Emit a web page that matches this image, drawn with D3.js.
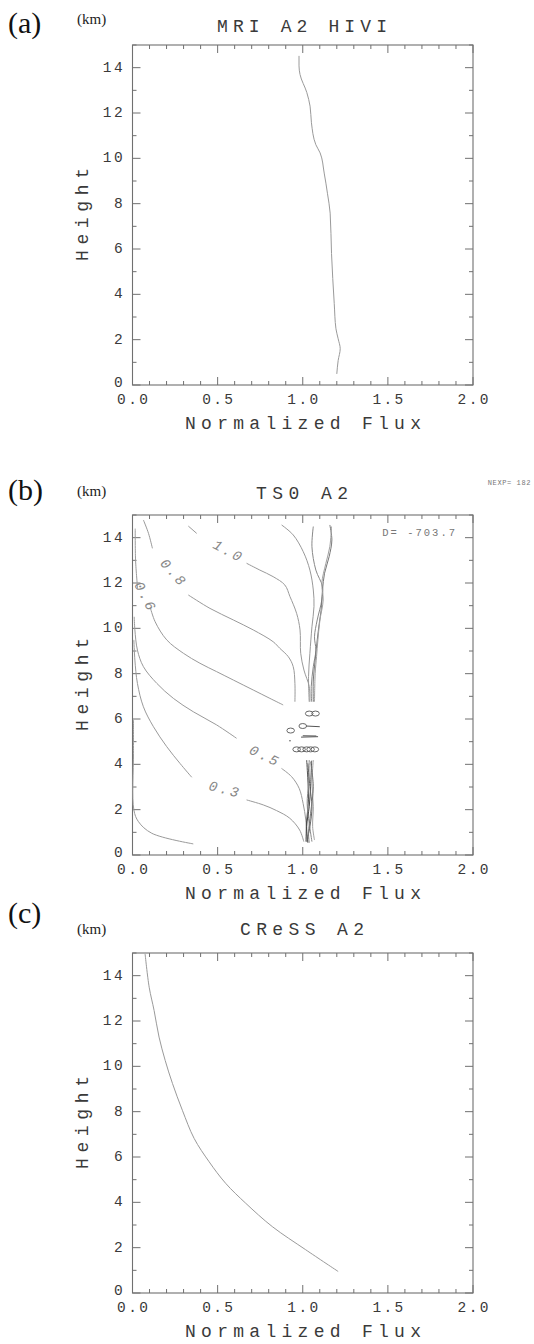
<!DOCTYPE html>
<html><head><meta charset="utf-8">
<script src="https://cdn.jsdelivr.net/npm/d3@7"></script>
<style>body{margin:0;background:#fff}svg{display:block}</style>
</head><body>
<script>
// ---------------- data ----------------
const panelTags = ["(a)", "(b)", "(c)"];
const panelTitles = ["MRI A2 HIVI", "TS0 A2", "CReSS A2"];
const xTicksMajor = [0, 0.5, 1.0, 1.5, 2.0];
const xTickLabels = ["0.0", "0.5", "1.0", "1.5", "2.0"];
const yTicksMajor = [0, 2, 4, 6, 8, 10, 12, 14];
const yTickLabels = ["0", "2", "4", "6", "8", "10", "12", "14"];
const xLabel = "Normalized Flux";
const yLabel = "Height";
const unitLabel = "(km)";

// (a) MRI A2 HIVI profile
const mriFlux   = [1.200, 1.208, 1.220, 1.208, 1.195, 1.185, 1.169, 1.161, 1.145, 1.126, 1.102, 1.077, 1.051, 1.043, 1.024, 0.984, 0.978, 0.978];
const mriHeight = [0.49, 1.08, 1.60, 2.04, 2.48, 3.59, 5.80, 7.58, 8.46, 9.35, 10.24, 10.60, 11.57, 12.30, 12.90, 13.70, 14.08, 14.52];

// (c) CReSS A2 profile
const cressFlux   = [1.208, 1.017, 0.821, 0.665, 0.547, 0.450, 0.362, 0.293, 0.235, 0.192, 0.156, 0.127, 0.098, 0.074];
const cressHeight = [0.95, 1.91, 2.93, 3.96, 4.84, 5.79, 6.82, 8.06, 9.24, 10.26, 11.29, 12.46, 13.49, 14.96];

// (b) TS0 A2 : contour lines of the ensemble distribution, [flux, height]
const contour10a = [[0.328,14.51],[0.377,14.19]];
const contour10b = [[0.670,12.87],[0.748,12.57],[0.826,12.28],[0.895,11.91],[0.925,11.40],[0.964,10.66],[0.984,9.93],[0.988,8.90],[1.007,8.16],[1.038,7.43],[1.042,6.76]];
const contour08a = [[0.064,14.78],[0.094,14.19],[0.117,13.53]];
const contour08b = [[0.328,11.47],[0.455,10.88],[0.592,10.37],[0.709,9.93],[0.826,9.41],[0.865,9.12],[0.915,8.75],[0.944,8.31],[0.954,7.57],[0.954,6.76]];
const contour06a = [[0.016,14.40],[0.018,13.01],[0.030,11.75]];
const contour06b = [[0.104,10.93],[0.133,10.29],[0.201,9.49],[0.299,8.90],[0.396,8.46],[0.494,8.09],[0.592,7.72],[0.709,7.28],[0.807,6.91],[0.885,6.62]];
const contour05a = [[0.010,10.51],[0.014,9.93],[0.029,9.04],[0.064,8.31],[0.143,7.57],[0.240,6.91],[0.357,6.32],[0.494,5.74],[0.611,5.15]];
const contour05b = [[0.875,3.82],[0.934,3.46],[0.979,2.94],[1.002,2.28],[1.018,1.54],[1.025,0.66]];
const contour03a = [[0.008,9.49],[0.014,8.60],[0.029,7.57],[0.064,6.54],[0.123,5.66],[0.201,4.78],[0.279,4.04],[0.348,3.43]];
const contour03b = [[0.670,2.43],[0.768,2.21],[0.846,1.96],[0.924,1.62],[0.982,1.10],[1.006,0.59]];
const contour01  = [[0.006,5.96],[0.006,4.49],[0.008,1.99],[0.035,1.47],[0.113,0.96],[0.357,0.49]];
const contourLabelText = ["1.0", "0.8", "0.6", "0.5", "0.3"];
const contourLabelPos  = [[0.5625,13.38],[0.240,12.43],[0.074,11.37],[0.777,4.34],[0.543,2.87]];
const contourLabelAngle = [28, 48, 62, 26, 14];

// ensemble member profiles (upper and lower layers)
const memberU1 = [[1.062,14.49],[1.054,13.60],[1.077,12.57],[1.116,11.84],[1.112,11.25],[1.085,10.37],[1.069,9.63],[1.077,9.04],[1.062,8.31],[1.050,7.43],[1.052,6.76]];
const memberU2 = [[1.159,14.56],[1.171,13.90],[1.155,13.16],[1.128,12.43],[1.116,11.69],[1.108,10.81],[1.097,10.22],[1.085,9.49],[1.073,8.60],[1.062,7.72],[1.062,6.76]];
const memberU3 = [[1.169,14.49],[1.159,13.60],[1.136,12.87],[1.112,11.99],[1.120,11.25],[1.101,10.37],[1.089,9.49],[1.081,8.75],[1.073,8.01],[1.069,6.76]];
const memberU4 = [[0.876,14.56],[0.944,14.12],[1.003,13.38],[1.042,12.57],[1.062,11.69],[1.066,10.96],[1.054,10.07],[1.042,8.90],[1.034,7.87],[1.038,6.76]];
const memberL1 = [[1.023,4.19],[1.030,3.31],[1.034,2.43],[1.023,1.54],[1.019,0.59]];
const memberL2 = [[1.038,4.19],[1.034,3.16],[1.026,2.28],[1.038,1.40],[1.054,0.59]];
const memberL3 = [[1.052,4.16],[1.046,3.01],[1.038,2.13],[1.023,1.25],[1.030,0.54]];
const memberL4 = [[1.062,4.19],[1.054,3.16],[1.062,2.13],[1.058,1.25],[1.069,0.66]];
const memberL5 = [[1.030,4.04],[1.042,3.01],[1.054,2.13],[1.042,1.25],[1.023,0.59]];
const memberL6 = [[1.046,4.12],[1.062,3.01],[1.046,1.84],[1.034,0.96],[1.038,0.54]];
// small closed contours in the 4.5-6.5 km gap
const loopCenters = [[1.038,6.24],[1.075,6.24],[1.000,5.69],[0.929,5.49],[0.964,4.66],[0.993,4.66],[1.023,4.66],[1.046,4.66],[1.071,4.66]];
const gapSegments = [[[1.020,5.69],[1.100,5.66]], [[0.990,5.20],[1.090,5.22]], [[1.000,5.26],[1.080,5.25]]];
const gapDots = [[0.925,5.04]];
const dValue = "D= -703.7";
const nexpValue = "NEXP= 182";

// ---------------- drawing ----------------
const W = 534, H = 1344;
const svg = d3.select("body").append("svg").attr("width", W).attr("height", H);
const left = 132.5, right = 473, ph = 340;
const panelTops = [45, 515, 953];
const mono = "'Liberation Mono', 'DejaVu Sans Mono', monospace";
const serif = "'Liberation Serif', 'DejaVu Serif', serif";
const textCol = "#3a3a3a";

function drawFrame(i) {
  const top = panelTops[i];
  const x = d3.scaleLinear().domain([0, 2]).range([left, right]);
  const y = d3.scaleLinear().domain([0, 15]).range([top + ph, top]);
  const g = svg.append("g");
  g.append("rect").attr("x", left).attr("y", top).attr("width", right - left).attr("height", ph)
    .attr("fill", "none").attr("stroke", "#707070").attr("stroke-width", 1.1);
  const minorX = d3.range(0, 2.0001, 0.1);
  const tk = g.append("g").attr("stroke", "#707070").attr("stroke-width", 1);
  minorX.forEach(v => {
    const major = xTicksMajor.some(m => Math.abs(m - v) < 1e-6);
    const L = major ? 8 : 4;
    tk.append("line").attr("x1", x(v)).attr("x2", x(v)).attr("y1", top + ph).attr("y2", top + ph - L);
    tk.append("line").attr("x1", x(v)).attr("x2", x(v)).attr("y1", top).attr("y2", top + L);
  });
  d3.range(0, 15.0001, 1).forEach(v => {
    const major = yTicksMajor.includes(v);
    const L = major ? 8 : 4;
    tk.append("line").attr("x1", left).attr("x2", left + L).attr("y1", y(v)).attr("y2", y(v));
    tk.append("line").attr("x1", right).attr("x2", right - L).attr("y1", y(v)).attr("y2", y(v));
  });
  xTicksMajor.forEach((v, k) => {
    g.append("text").attr("x", x(v) + 1.2).attr("y", top + ph + 15).attr("text-anchor", "middle")
      .attr("dominant-baseline", "central").attr("font-family", mono).attr("font-size", 14.5)
      .attr("letter-spacing", 2.4).attr("fill", textCol).text(xTickLabels[k]);
  });
  yTicksMajor.forEach((v, k) => {
    g.append("text").attr("x", 125).attr("y", y(v) + (v === 0 ? -2 : 0)).attr("text-anchor", "end")
      .attr("dominant-baseline", "central").attr("font-family", mono).attr("font-size", 14.5)
      .attr("letter-spacing", 2.4).attr("fill", textCol).text(yTickLabels[k]);
  });
  g.append("text").attr("x", 185).attr("y", top + ph + 39).attr("dominant-baseline", "central")
    .attr("font-family", mono).attr("font-size", 18).attr("fill", textCol)
    .attr("textLength", 236).attr("lengthAdjust", "spacing").text(xLabel);
  const cy = top + ph / 2;
  g.append("text").attr("transform", `translate(83,${cy + 46}) rotate(-90)`)
    .attr("dominant-baseline", "central").attr("font-family", mono).attr("font-size", 18).attr("fill", textCol)
    .attr("textLength", 93).attr("lengthAdjust", "spacing").text(yLabel);
  return {x, y, g};
}

const tagY = [33, 500, 923];
const kmY = [19, 491, 929];
const titleY = [27, 494, 930];
const titleLen = [170, 92, 124];
panelTops.forEach((top, i) => {
  svg.append("text").attr("x", 8).attr("y", tagY[i]).attr("font-family", serif).attr("font-size", 30)
    .attr("fill", "#111").text(panelTags[i]);
  svg.append("text").attr("x", 77).attr("y", kmY[i]).attr("dominant-baseline", "central")
    .attr("font-family", serif).attr("font-size", 15).attr("fill", "#222").text(unitLabel);
  svg.append("text").attr("x", 302 - titleLen[i] / 2).attr("y", titleY[i]).attr("dominant-baseline", "central")
    .attr("font-family", mono).attr("font-size", 18).attr("fill", textCol)
    .attr("textLength", titleLen[i]).attr("lengthAdjust", "spacing").text(panelTitles[i]);
});

const lineColor = "#9a9a9a";
// (a)
{
  const {x, y, g} = drawFrame(0);
  const pts = mriFlux.map((v, k) => [v, mriHeight[k]]);
  g.append("path").datum(pts).attr("fill", "none").attr("stroke", lineColor).attr("stroke-width", 1)
    .attr("d", d3.line().x(d => x(d[0])).y(d => y(d[1])).curve(d3.curveMonotoneY));
}
// (b)
{
  const {x, y, g} = drawFrame(1);
  const ln = d3.line().x(d => x(d[0])).y(d => y(d[1])).curve(d3.curveCatmullRom.alpha(0.5));
  const contours = [contour10a, contour10b, contour08a, contour08b, contour06a, contour06b,
                    contour05a, contour05b, contour03a, contour03b, contour01];
  contours.forEach(c => g.append("path").datum(c).attr("fill", "none").attr("stroke", lineColor)
    .attr("stroke-width", 1).attr("d", ln));
  const upper = [memberU1, memberU2, memberU3, memberU4];
  const upperCol = ["#888", "#777", "#a0a0a0", "#999"];
  upper.forEach((c, k) => g.append("path").datum(c).attr("fill", "none").attr("stroke", upperCol[k])
    .attr("stroke-width", 1).attr("d", ln));
  const lower = [memberL1, memberL2, memberL3, memberL4, memberL5, memberL6];
  const lowerCol = ["#555", "#888", "#444", "#a0a0a0", "#666", "#777"];
  lower.forEach((c, k) => g.append("path").datum(c).attr("fill", "none").attr("stroke", lowerCol[k])
    .attr("stroke-width", 1).attr("d", ln));
  loopCenters.forEach(p => g.append("ellipse").attr("cx", x(p[0])).attr("cy", y(p[1]))
    .attr("rx", 3.8).attr("ry", 2.5).attr("fill", "none").attr("stroke", "#666").attr("stroke-width", 1));
  gapSegments.forEach(s => g.append("path").datum(s).attr("fill", "none").attr("stroke", "#555")
    .attr("stroke-width", 1).attr("d", d3.line().x(d => x(d[0])).y(d => y(d[1]))));
  gapDots.forEach(p => g.append("circle").attr("cx", x(p[0])).attr("cy", y(p[1])).attr("r", 0.8).attr("fill", "#555"));
  contourLabelText.forEach((t, k) => {
    const p = contourLabelPos[k];
    g.append("text").attr("transform", `translate(${x(p[0])},${y(p[1])}) rotate(${contourLabelAngle[k]})`)
      .attr("text-anchor", "middle").attr("dominant-baseline", "central")
      .attr("font-family", mono).attr("font-size", 14).attr("letter-spacing", 2.5).attr("fill", "#888")
      .attr("font-style", "italic").text(t);
  });
  g.append("text").attr("x", 457).attr("y", 533).attr("text-anchor", "end").attr("dominant-baseline", "central")
    .attr("font-family", mono).attr("font-size", 10.5).attr("letter-spacing", 2).attr("fill", "#777").text(dValue);
  svg.append("text").attr("x", 531).attr("y", 483).attr("text-anchor", "end").attr("dominant-baseline", "central")
    .attr("font-family", mono).attr("font-size", 7).attr("letter-spacing", 0.6).attr("fill", "#777").text(nexpValue);
}
// (c)
{
  const {x, y, g} = drawFrame(2);
  const pts = cressFlux.map((v, k) => [v, cressHeight[k]]);
  g.append("path").datum(pts).attr("fill", "none").attr("stroke", lineColor).attr("stroke-width", 1)
    .attr("d", d3.line().x(d => x(d[0])).y(d => y(d[1])).curve(d3.curveCatmullRom.alpha(0.5)));
}
</script>
</body></html>
